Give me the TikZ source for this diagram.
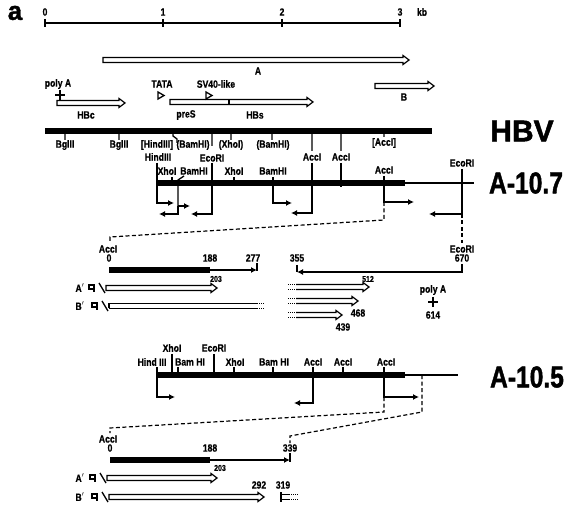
\documentclass[tikz,border=0pt]{standalone}
\usepackage{fontspec}
\newfontfamily\labf[FakeStretch=0.82,FakeBold=0.6]{Liberation Sans}
\newfontfamily\bigf[FakeBold=1.6]{Liberation Sans}
\usetikzlibrary{arrows.meta}

\newcommand\genearr[3]{\draw[gene] (#1,#3-2.5) -- (#2-6,#3-2.5) -- (#2-6,#3-4.5) -- (#2,#3) -- (#2-6,#3+4.5) -- (#2-6,#3+2.5) -- (#1,#3+2.5) -- cycle;}
\newcommand\geneopen[3]{\draw[gene] (#1,#3-2.5) -- (#2-6,#3-2.5) -- (#2-6,#3-4.5) -- (#2,#3) -- (#2-6,#3+4.5) -- (#2-6,#3+2.5) -- (#1,#3+2.5);}
\newcommand\capflag[2]{\draw[thin] (#1-3,#2-3) rectangle (#1+2,#2+1);
  \draw[thin] (#1+2,#2-3) -- (#1+2,#2+4);
  \draw[thin] (#1+7,#2-5) -- (#1+13,#2+5);}

\begin{document}
\begin{tikzpicture}[x=1pt, y=-1pt,
lab/.style={font=\labf\bfseries\fontsize{10.5}{10.5}\selectfont, inner sep=0pt},
tiny/.style={font=\labf\bfseries\fontsize{8.5}{8.5}\selectfont, inner sep=0pt},
big/.style={font=\bigf\bfseries\fontsize{30}{30}\selectfont, inner sep=0pt},
dna/.style={line width=6pt},
thin/.style={line width=1.3pt},
arr/.style={-{Latex[length=6pt,width=6pt]}, line width=1.3pt},
link/.style={line width=1.2pt, dash pattern=on 4pt off 2.5pt},
gene/.style={line width=1.2pt, line join=miter},
rna/.style={line width=1.5pt, line join=miter},
dots/.style={line width=0.9pt, dash pattern=on 1pt off 1pt}
]
\useasboundingbox (0,0) rectangle (570,510);

\node[big, font=\bigf\bfseries\fontsize{26}{26}\selectfont] (panel) at (15,13) {a};

\draw[thin] (45,23) -- (400,23);
\foreach \x/\t in {45/0,163/1,282/2,400/3}{
  \draw[thin] (\x,19) -- (\x,27);
  \node[lab] (kb\t) at (\x,12) {\t};
}
\node[lab] (kbunit) at (422,12) {kb};

\genearr{103}{409}{60}
\node[lab] (geneA) at (258,71) {A};
\genearr{375}{434}{86}
\node[lab] (geneB) at (404,97) {B};
\genearr{57}{125}{103}
\node[lab] (hbc) at (86,115) {HBc};
\node[lab] (polyA) at (58,84) {poly A};
\draw[thin] (55,95) -- (65,95) (60,90) -- (60,100);
\node[lab] (tata) at (162,84) {TATA};
\draw[thin] (158,92) -- (164,95.5) -- (158,99) -- cycle;
\node[lab] (sv40) at (216,84) {SV40-like};
\draw[thin] (206,92) -- (212,95.5) -- (206,99) -- cycle;
\genearr{170}{313}{102}
\draw[gene] (229,99.5) -- (229,104.5);
\node[lab] (pres) at (186,115) {preS};
\node[lab] (hbs) at (255,115) {HBs};

\draw[dna] (45,131) -- (432,131);
\node[big] (hbv) at (522,131) {HBV};
\node[lab] (bgl1) at (65,145) {BglII};
\node[lab] (bgl2) at (119,145) {BglII};
\node[lab] (hind0) at (157,145) {[HindIII]};
\node[lab] (bam0) at (193,145) {(BamHI)};
\node[lab] (xho0) at (231,145) {(XhoI)};
\node[lab] (bam0b) at (273,145) {(BamHI)};
\node[lab] (acc0) at (384,143) {[AccI]};
\draw[thin] (65,131) -- (65,140) (119,131) -- (119,140)
  (173,131) -- (173,136) -- (177,139) -- (177,143)
  (212,131) -- (212,146) (231,131) -- (231,140) (272,131) -- (272,140)
  (312,131) -- (312,151) (341,131) -- (341,151) (384,131) -- (384,137);

\draw[dna] (157,183) -- (405,183);
\draw[thin] (405,183) -- (474,183);
\node[big] (a107) at (526,183) {\scalebox{0.82}[1]{A-10.7}};
\node[lab] (hind1) at (158,157) {HindIII};
\node[lab] (xho1) at (167,171) {XhoI};
\node[lab] (bam1) at (194,171) {BamHI};
\node[lab] (eco1) at (212,158) {EcoRI};
\node[lab] (xho1b) at (234,171) {XhoI};
\node[lab] (bam1b) at (273,171) {BamHI};
\node[lab] (acc1) at (312,157) {AccI};
\node[lab] (acc1b) at (341,157) {AccI};
\node[lab] (acc1c) at (384,170) {AccI};
\node[lab] (eco1b) at (462,163) {EcoRI};
\draw[arr] (157,163) |- (174,203);
\draw[thin] (172,177) -- (172,183) (234,177) -- (234,183) (341,163) -- (341,187);
\draw[thin] (184,176) -- (178,180) -- (178,206);
\draw[arr] (178,206) -- (190,206);
\draw[arr] (178,206) |- (159,214);
\draw[arr] (212,163) |- (191,214);
\draw[arr] (273,177) |- (292,203);
\draw[arr] (312,163) |- (291,213);
\draw[arr] (384,176) |- (414,202);
\draw[arr] (462,169) |- (429,214);
\draw[link] (384,202) -- (384,220) -- (110,237) -- (110,243);
\draw[link] (462,214) -- (462,243);

\node[lab] (accx1) at (108,249) {AccI};
\node[lab] (zero1) at (109,258) {0};
\node[lab] (n188a) at (210,258) {188};
\node[lab] (n277) at (253,258) {277};
\node[lab] (n355) at (297,258) {355};
\node[lab] (ecox1) at (462,249) {EcoRI};
\node[lab] (n670) at (462,258) {670};
\draw[dna] (109,270) -- (210,270);
\draw[arr] (210,270) -- (257,270);
\draw[thin] (257,263) -- (257,271);
\draw[arr] (462,264) |- (297,272);
\draw[thin] (297,265) -- (297,272);
\node[tiny] (n203a) at (216,279) {203};
\node[tiny] (n512) at (368,279) {512};

\node[lab] (ra1) at (80,288) {A$'$};
\capflag{92}{288}
\genearr{106}{217}{288}
\node[lab] (rb1) at (80,306) {B$'$};
\capflag{95}{306}
\draw[rna] (109,303.5) -- (257,303.5) (109,308.5) -- (257,308.5) (109,303.5) -- (109,308.5);
\draw[dots] (257,303.5) -- (264,303.5) (257,308.5) -- (264,308.5);
\foreach \y/\x in {287/369,301/358,315/342}{
  \draw[dots] (288,\y-2.5) -- (296,\y-2.5) (288,\y+2.5) -- (296,\y+2.5);
  \geneopen{296}{\x}{\y}
}
\node[lab] (n468) at (358,313) {468};
\node[lab] (n439) at (343,327) {439};
\node[lab] (polyAb) at (433,290) {poly A};
\draw[thin] (428,302) -- (438,302) (433,297) -- (433,307);
\node[lab] (n614) at (433,315) {614};

\draw[dna] (157,375) -- (405,375);
\draw[thin] (405,375) -- (458,375);
\node[big] (a105) at (527,377) {\scalebox{0.82}[1]{A-10.5}};
\node[lab] (xho2) at (172,348) {XhoI};
\node[lab] (eco2) at (214,348) {EcoRI};
\node[lab] (hind2) at (152,362) {Hind III};
\node[lab] (bam2) at (190,362) {Bam HI};
\node[lab] (xho2b) at (235,362) {XhoI};
\node[lab] (bam2b) at (274,362) {Bam HI};
\node[lab] (acc2) at (313,362) {AccI};
\node[lab] (acc2b) at (343,362) {AccI};
\node[lab] (acc2c) at (386,362) {AccI};
\draw[thin] (172,354) -- (172,375) (214,354) -- (214,375) (178,367) -- (178,375)
  (234,367) -- (234,375) (273,367) -- (273,375) (343,367) -- (343,375);
\draw[arr] (157,367) |- (175,397);
\draw[arr] (313,367) |- (294,403);
\draw[arr] (384,367) |- (419,397);
\draw[link] (384,397) -- (384,412) -- (110,428) -- (110,433);
\draw[link] (422,375) -- (422,412) -- (290,436) -- (290,443);

\node[lab] (accx2) at (108,439) {AccI};
\node[lab] (zero2) at (110,448) {0};
\node[lab] (n188b) at (210,448) {188};
\node[lab] (n339) at (290,448) {339};
\draw[dna] (110,460) -- (210,460);
\draw[arr] (210,460) -- (290,460);
\draw[thin] (290,453) -- (290,462);
\node[tiny] (n203b) at (220,468) {203};

\node[lab] (ra2) at (80,478) {A$'$};
\capflag{93}{478}
\genearr{107}{217}{478}
\node[lab] (rb2) at (80,497) {B$'$};
\capflag{95}{497}
\genearr{109}{264}{497}
\node[lab] (n292) at (259,485) {292};
\node[lab] (n319) at (283,485) {319};
\draw[rna] (281,492) -- (281,502) (281,494.5) -- (289,494.5) (281,499.5) -- (289,499.5);
\draw[dots] (289,494.5) -- (298,494.5) (289,499.5) -- (298,499.5);
\end{tikzpicture}
\end{document}
